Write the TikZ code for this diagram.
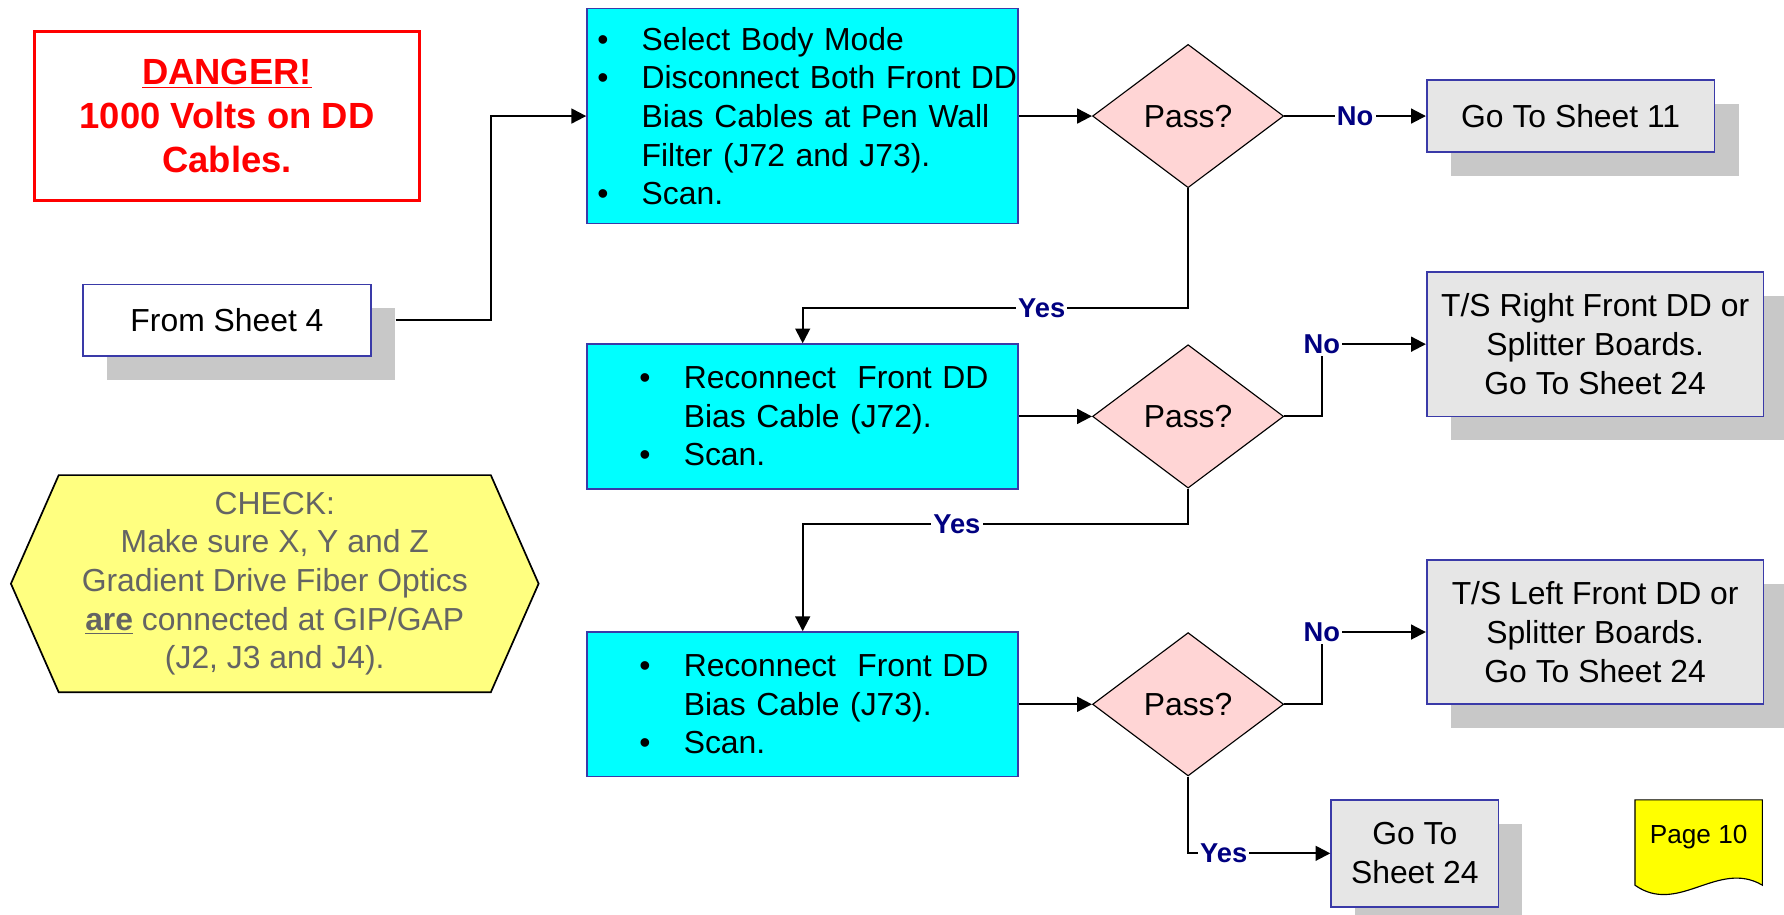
\documentclass[tikz,border=0pt]{standalone}
\usepackage{fontspec}
\setmainfont{Liberation Sans}
\usepackage{tikz}
\usetikzlibrary{arrows.meta,positioning,calc,shapes.geometric,shadows,backgrounds}
\definecolor{procfill}{HTML}{00FFFF}
\definecolor{boxline}{HTML}{3A3AA8}
\definecolor{passfill}{HTML}{FFD5D5}
\definecolor{exitfill}{HTML}{E6E6E6}
\definecolor{shadowgray}{HTML}{C8C8C8}
\definecolor{notefill}{HTML}{FFFF80}
\definecolor{notetext}{HTML}{646464}
\definecolor{pagefill}{HTML}{FFFF00}
\definecolor{labelblue}{HTML}{000080}
\definecolor{dangerred}{HTML}{FF0000}

\newcommand{\bul}{\makebox[19.5pt][l]{•}}
\newcommand{\ind}{\hspace*{19.5pt}}
\newcommand{\lead}[1]{\hspace*{#1pt}}

\begin{document}
\begin{tikzpicture}[
  x=0.5pt, y=-0.5pt,
  txt/.style={font=\fontsize{14}{17}\selectfont},
  proc/.style={txt, draw=boxline, line width=0.75pt, fill=procfill, text width=189.5pt, inner xsep=0pt, inner ysep=0pt, align=left},
  pass/.style={diamond, draw, line width=0.5pt, fill=passfill, minimum width=84pt, minimum height=63pt, inner sep=0pt, txt},
  exit/.style={txt, draw=boxline, line width=0.75pt, fill=exitfill, align=center, inner sep=0pt, drop shadow={shadow xshift=10.5pt, shadow yshift=-10.5pt, fill=shadowgray, opacity=1}},
  lbl/.style={font=\fontsize{12}{13}\selectfont\bfseries, text=labelblue, fill=white, inner sep=1pt},
  arr/.style={-{Triangle[length=6.5pt, width=6.5pt]}, line width=0.9pt}
]
  \useasboundingbox (0,0) rectangle (1568,804);

  % notes on the left
  \node[draw=dangerred, line width=1.3pt, minimum width=169.5pt, minimum height=74pt, align=center, text=dangerred, font=\fontsize{16}{19.5}\selectfont\bfseries] (danger) at (199.5,102) {\underline{DANGER!}\\1000 Volts on DD\\Cables.};
  \node[exit, fill=white, minimum width=126.5pt, minimum height=31.5pt] (from) at (199.5,281.5) {From Sheet 4};
  \node[txt, text=notetext, align=center, minimum width=231.5pt, minimum height=95pt, inner sep=0pt] (chk) at (241.5,513) {CHECK:\\Make sure X, Y and Z\\Gradient Drive Fiber Optics\\\underline{\textbf{are}} connected at GIP/GAP\\(J2, J3 and J4).};
  \begin{scope}[on background layer]
    \draw[line width=0.75pt, fill=notefill] (chk.west) -- ([xshift=21pt]chk.north west) -- ([xshift=-21pt]chk.north east) -- (chk.east) -- ([xshift=-21pt]chk.south east) -- ([xshift=21pt]chk.south west) -- cycle;
  \end{scope}

  % procedure steps
  \node[proc, minimum height=94.5pt] (box1) at (705.5,102) {\lead{4.5}\bul Select Body Mode\\\lead{4.5}\bul Disconnect Both Front DD\\\lead{4.5}\ind Bias Cables at Pen Wall\\\lead{4.5}\ind Filter (J72 and J73).\\\lead{4.5}\bul Scan.};
  \node[proc, minimum height=63.5pt] (box2) at (705.5,366) {\lead{23}\bul Reconnect~~Front DD\\\lead{23}\ind Bias Cable (J72).\\\lead{23}\bul Scan.};
  \node[proc, minimum height=63.5pt] (box3) at (705.5,619) {\lead{23}\bul Reconnect~~Front DD\\\lead{23}\ind Bias Cable (J73).\\\lead{23}\bul Scan.};

  \node[pass, right=32pt of box1] (d1) {Pass?};
  \node[pass, right=32pt of box2] (d2) {Pass?};
  \node[pass, right=32pt of box3] (d3) {Pass?};

  % exits
  \node[exit, minimum width=126.5pt, minimum height=31.5pt] (go11) at (1380.5,102) {Go To Sheet 11};
  \node[exit, minimum width=148pt, minimum height=63.5pt] (tsr) at (1402,302.5) {T/S Right Front DD or\\Splitter Boards.\\Go To Sheet 24};
  \node[exit, minimum width=148pt, minimum height=63.5pt] (tsl) at (1402,555.5) {T/S Left Front DD or\\Splitter Boards.\\Go To Sheet 24};
  \node[exit, minimum width=73.5pt, minimum height=47pt] (go24) at (1243.5,750) {Go To\\Sheet 24};

  % page tag
  \draw[line width=0.5pt, fill=pagefill] (1437,703) -- (1549,703) -- (1549,778) .. controls (1510,755) and (1475,805) .. (1437,778) -- cycle;
  \node[font=\fontsize{11.5}{13}\selectfont] (pg) at (1493,736) {Page 10};

  \draw[arr] ([xshift=10.5pt]from.east) -- ++(84,0) |- (box1.west);
  \draw[arr] (box1.east) -- (d1.west);
  \draw[arr] (d1.east) -- node[lbl]{No} (go11.west);
  \draw[arr] (d1.south) -- ++(0,105) -| node[lbl, pos=0.19]{Yes} (box2.north);
  \draw[arr] (box2.east) -- (d2.west);
  \draw[arr] (d2.east) -- ++(33,0) |- node[lbl]{No} (tsr.west);
  \draw[arr] (d2.south) -- ++(0,31) -| node[lbl, pos=0.30]{Yes} (box3.north);
  \draw[arr] (box3.east) -- (d3.west);
  \draw[arr] (d3.east) -- ++(33,0) |- node[lbl]{No} (tsl.west);
  \draw[arr] (d3.south) |- node[lbl, pos=0.625]{Yes} (go24.west);
\end{tikzpicture}
\end{document}
